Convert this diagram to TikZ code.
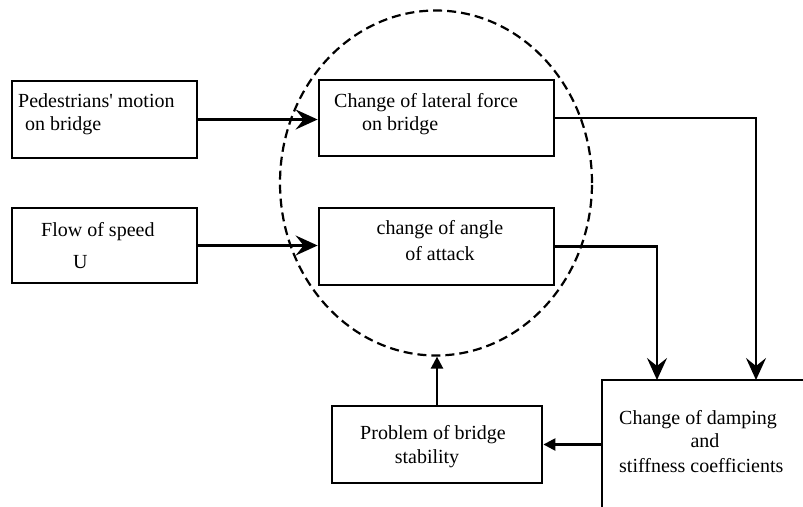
\documentclass[tikz,border=0pt]{standalone}
\usepackage{fontspec}
\setmainfont{Liberation Serif}
\usetikzlibrary{shapes.geometric,arrows.meta}
\begin{document}
\begin{tikzpicture}[x=1pt,y=-1pt,
  box/.style={draw, line width=2.8pt, rectangle, inner sep=0pt},
  txt/.style={anchor=base west, inner sep=0pt, font=\fontsize{20}{24}\selectfont},
  ctxt/.style={anchor=base, inner sep=0pt, font=\fontsize{20}{24}\selectfont},
  conn/.style={line width=2.4pt},
  bigarrow/.style={conn, -{Stealth[length=22pt,width=20pt,inset=8pt]}},
  smallarrow/.style={conn, -{Triangle[length=12pt,width=12pt]}}]
\useasboundingbox (0,0) rectangle (803,506);
\clip (0,0) rectangle (803,506);
\fill[white] (0,0) rectangle (803,506);
% boxes
\node[box, minimum width=185pt, minimum height=77pt] (A) at (104.5,119.5) {};
\node[box, minimum width=185pt, minimum height=75pt] (B) at (104.5,245.5) {};
\node[box, minimum width=235pt, minimum height=76pt] (C) at (436.5,118) {};
\node[box, minimum width=235pt, minimum height=77pt] (D) at (436.5,246.5) {};
\node[box, minimum width=210pt, minimum height=77pt] (F) at (437,444.5) {};
\node[box, minimum width=240pt, minimum height=170pt] (E) at (722,465) {};
% dashed ellipse
\node[draw, ellipse, line width=2.2pt, dash pattern=on 9pt off 5pt, minimum width=312pt, minimum height=345pt, inner sep=0pt] (ell) at (436,183) {};
% texts
\node[txt] (tA1) at (18,107) {Pedestrians\textquotesingle\ motion};
\node[txt] (tA2) at (25,130) {on bridge};
\node[txt] (tB1) at (41,236) {Flow of speed};
\node[txt] (tB2) at (73,268) {U};
\node[txt] (tC1) at (334,107) {Change of lateral force};
\node[txt] (tC2) at (362,130) {on bridge};
\node[ctxt] (tD1) at (440,234) {change of angle};
\node[ctxt] (tD2) at (440,260) {of attack};
\node[ctxt] (tF1) at (433,439) {Problem of bridge};
\node[ctxt] (tF2) at (427,463) {stability};
\node[txt] (tE1) at (619,424) {Change of damping};
\node[ctxt] (tE2) at (705,447) {and};
\node[txt] (tE3) at (619,472) {stiffness coefficients};
% connectors
\coordinate (eT1) at (657,380);
\coordinate (eT2) at (756,380);
\draw[bigarrow] (A.east) -- (A.east -| C.west);
\draw[bigarrow] (B.east) -- (B.east -| D.west);
\draw[bigarrow] (C.east) -| (eT2);
\draw[bigarrow] (D.east) -| (eT1);
\draw[smallarrow] (E.north west |- F.east) -- (F.east);
\draw[smallarrow] (F.north) -- (F.north |- ell.south);
\end{tikzpicture}
\end{document}
